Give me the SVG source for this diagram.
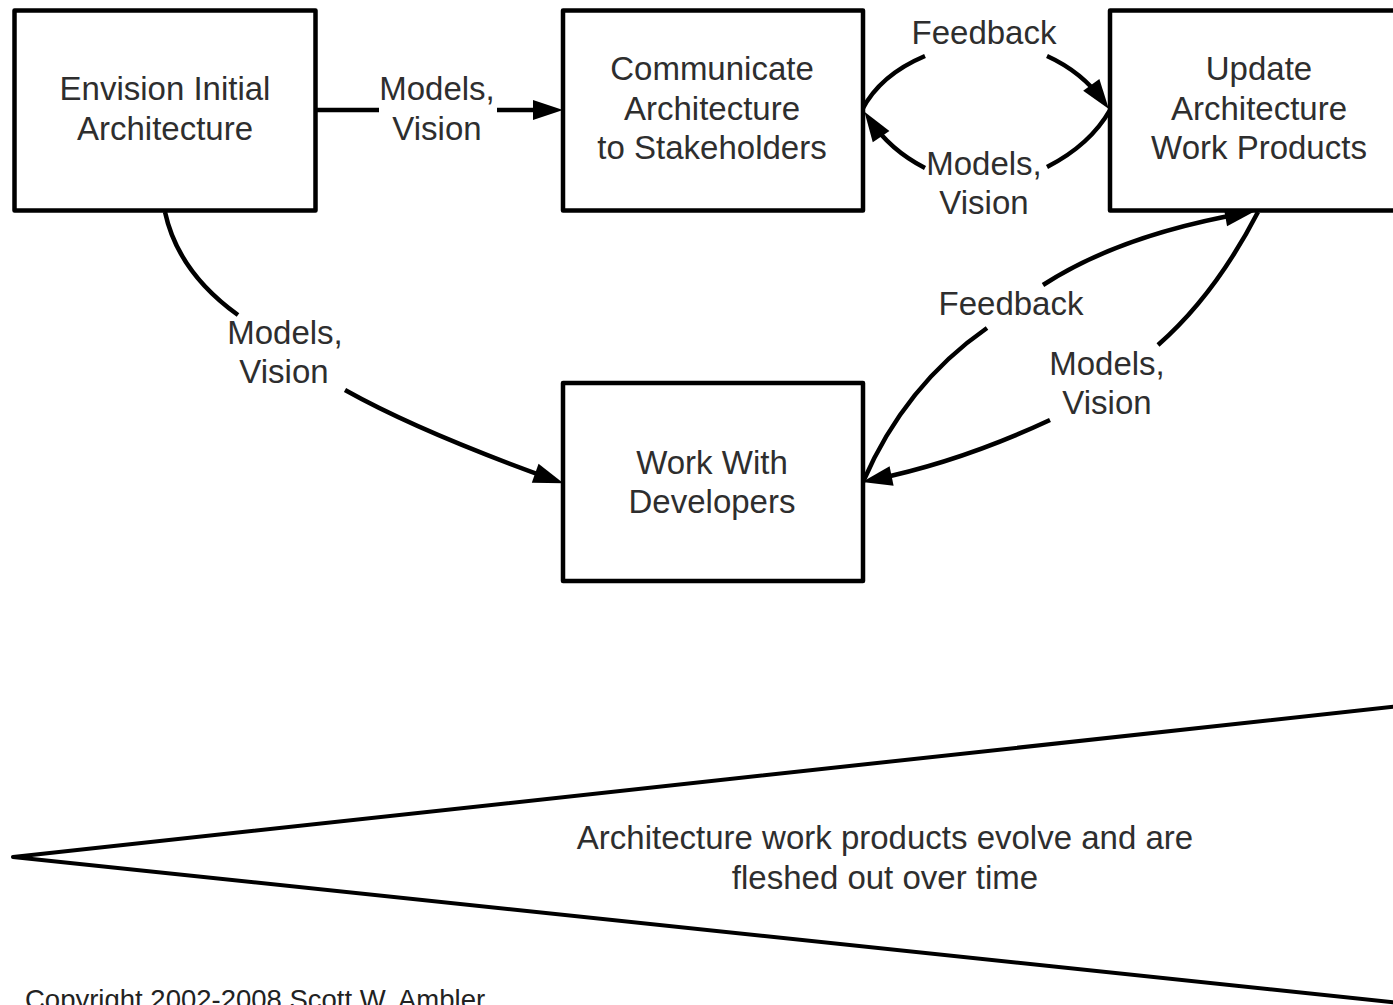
<svg xmlns="http://www.w3.org/2000/svg" width="1393" height="1005" viewBox="0 0 1393 1005">
  <style>
    .box { fill: #ffffff; stroke: #000000; stroke-width: 4.5; stroke-linejoin: round; }
    .t { font-family: "Liberation Sans", Arial, sans-serif; font-size: 33px; fill: #2e2e2e; text-anchor: middle; }
    .c { fill: none; stroke: #000000; stroke-width: 4.5; }
    .a { marker-end: url(#arrow); }
    .cr { font-family: "Liberation Sans", Arial, sans-serif; font-size: 27.5px; fill: #222222; }
  </style>
  <defs>
    <marker id="arrow" markerUnits="userSpaceOnUse" markerWidth="30" markerHeight="20" refX="20" refY="10" orient="auto" overflow="visible">
      <path d="M0,0 L30,10 L0,20 Z" fill="#000000"/>
    </marker>
  </defs>
  <rect width="1393" height="1005" fill="#ffffff"/>

  <g id="connectors">
    <!-- Envision -> Communicate -->
    <path class="c" d="M316,110 H379"/>
    <path class="c a" d="M497,110 H553"/>
    <!-- Communicate -> Update (Feedback) -->
    <path class="c" d="M862,110 Q880,75 925,56"/>
    <path class="c a" d="M1047,56 Q1082,72 1103,101"/>
    <!-- Update -> Communicate (Models, Vision) -->
    <path class="c" d="M1110,110 Q1090,145 1047,167"/>
    <path class="c a" d="M925,168 Q890,150 870,120"/>
    <!-- Envision -> Work With Developers -->
    <path class="c" d="M165,212 Q178,272 238,315"/>
    <path class="c a" d="M345,390 Q420,432 554,480"/>
    <!-- Work With Developers -> Update (Feedback) -->
    <path class="c" d="M863,482 Q905,385 987,328"/>
    <path class="c a" d="M1043,285 Q1120,235 1245,213"/>
    <!-- Update -> Work With Developers (Models, Vision) -->
    <path class="c" d="M1258,212 Q1215,295 1158,345"/>
    <path class="c a" d="M1050,420 Q960,462 872,480"/>

    <g id="connector-labels">
      <text class="t" x="437" y="100">Models,</text>
      <text class="t" x="437" y="140">Vision</text>
      <text class="t" x="984" y="44">Feedback</text>
      <text class="t" x="984" y="175">Models,</text>
      <text class="t" x="984" y="214">Vision</text>
      <text class="t" x="285" y="344">Models,</text>
      <text class="t" x="284" y="383">Vision</text>
      <text class="t" x="1011" y="315">Feedback</text>
      <text class="t" x="1107" y="375">Models,</text>
      <text class="t" x="1107" y="414">Vision</text>
    </g>
  </g>

  <g id="node-envision">
    <rect class="box" x="14.5" y="10.5" width="301" height="200"/>
    <text class="t" x="165" y="100">Envision Initial</text>
    <text class="t" x="165" y="140">Architecture</text>
  </g>

  <g id="node-communicate">
    <rect class="box" x="563" y="10.5" width="300" height="200"/>
    <text class="t" x="712" y="80">Communicate</text>
    <text class="t" x="712" y="119.5">Architecture</text>
    <text class="t" x="712" y="159">to Stakeholders</text>
  </g>

  <g id="node-update">
    <rect class="box" x="1110" y="10.5" width="300" height="200"/>
    <text class="t" x="1259" y="80">Update</text>
    <text class="t" x="1259" y="119.5">Architecture</text>
    <text class="t" x="1259" y="159">Work Products</text>
  </g>

  <g id="node-work">
    <rect class="box" x="563" y="383" width="300" height="198"/>
    <text class="t" x="712" y="474">Work With</text>
    <text class="t" x="712" y="513">Developers</text>
  </g>

  <g id="evolution-wedge">
    <polyline points="1410,705 13,857 1410,1004" fill="none" stroke="#000000" stroke-width="4" stroke-linejoin="round"/>
    <text class="t" x="885" y="849">Architecture work products evolve and are</text>
    <text class="t" x="885" y="889">fleshed out over time</text>
  </g>

  <text class="cr" x="25" y="1009">Copyright 2002-2008 Scott W. Ambler</text>
</svg>
